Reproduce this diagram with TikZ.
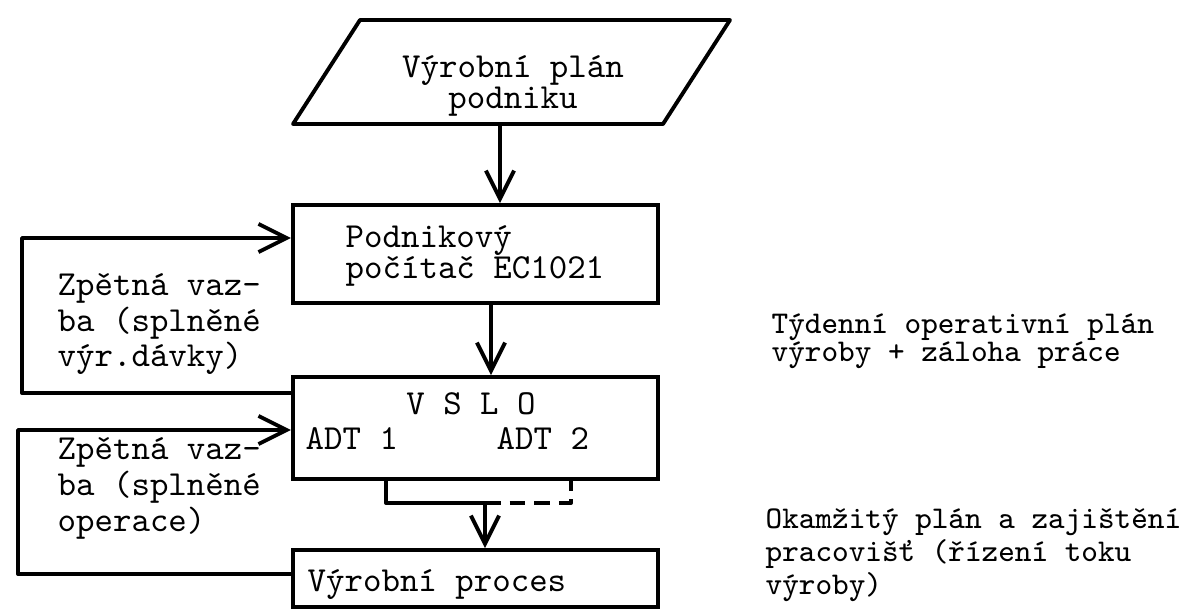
\documentclass[tikz,border=0pt]{standalone}
\usetikzlibrary{arrows.meta}
\newcommand{\twfont}{\fontsize{10pt}{8.9pt}\selectfont\ttfamily}
\newcommand{\twsmall}{\fontsize{9pt}{7.9pt}\selectfont\ttfamily}
\tikzset{
  ln/.style={line width=1.1pt, line join=round},
  box/.style={draw, line width=1.1pt, minimum width=3.65cm, inner sep=0pt},
  txt/.style={font=\twfont, inner sep=0pt, align=left},
  rtxt/.style={font=\twsmall, inner sep=0pt, align=left},
  arr/.style={ln, -{Straight Barb[length=8pt,width=8pt,line width=1.1pt]}},
  dsh/.style={ln, dash pattern=on 4.5pt off 2.5pt}
}
\begin{document}
\begin{tikzpicture}[x=0.01cm, y=-0.01cm]
\useasboundingbox (0,0) rectangle (1188,615);

% parallelogram input
\draw[ln] (293,124) -- (360,20) -- (730,20) -- (663,124) -- cycle;
\node[txt, align=center] (plan) at (513,86) {Výrobní plán\\podniku};
\coordinate (pa) at (500,124);

% boxes
\node[box, minimum height=0.98cm] (pc) at (475.5,254) {};
\node[box, minimum height=1.02cm] (vslo) at (475.5,428) {};
\node[box, minimum height=0.57cm] (proc) at (475.5,578.5) {};

% texts in boxes
\node[txt, anchor=west] (pctxt) at (345,256) {Podnikový\\počítač EC1021};
\node[txt, anchor=base] (vslotxt) at (471,414) {V S L O};
\node[txt, anchor=base west] (adt1) at (305,449) {ADT 1};
\node[txt, anchor=base west] (adt2) at (496,449) {ADT 2};
\node[txt, anchor=base west] (proctxt) at (307,591) {Výrobní proces};

% side texts
\node[txt, anchor=west] (fb1) at (57,324) {Zpětná vaz-\\ba (splněné\\výr.dávky)};
\node[txt, anchor=west] (fb2) at (57,488) {Zpětná vaz-\\ba (splněné\\operace)};
\node[rtxt, anchor=west] (week) at (771,341) {Týdenní operativní plán\\výroby + záloha práce};
\node[rtxt, anchor=west] (now) at (765,555) {Okamžitý plán a zajištění\\pracovišť (řízení toku\\výroby)};

% main arrows
\draw[arr] (pa) -- (pa |- pc.north);
\coordinate (xb) at (491,0);
\draw[arr] (pc.south -| xb) -- (vslo.north -| xb);

% feedback loops
\coordinate (l1b) at (22,393);
\coordinate (l1t) at (22,238);
\draw[arr] (vslo.west |- l1b) -- (l1b) -- (l1t) -- (pc.west |- l1t);
\coordinate (l2b) at (18,574);
\coordinate (l2t) at (18,430);
\draw[arr] (proc.west |- l2b) -- (l2b) -- (l2t) -- (vslo.west |- l2t);

% outputs of VSLO
\coordinate (j1) at (386,503);
\coordinate (j2) at (485,503);
\coordinate (j3) at (571,503);
\draw[ln] (vslo.south -| j1) -- (j1) -- (j2);
\draw[arr] (j2) -- (proc.north -| j2);
\draw[dsh] (j2) -- (j3) -- (vslo.south -| j3);
\end{tikzpicture}
\end{document}
